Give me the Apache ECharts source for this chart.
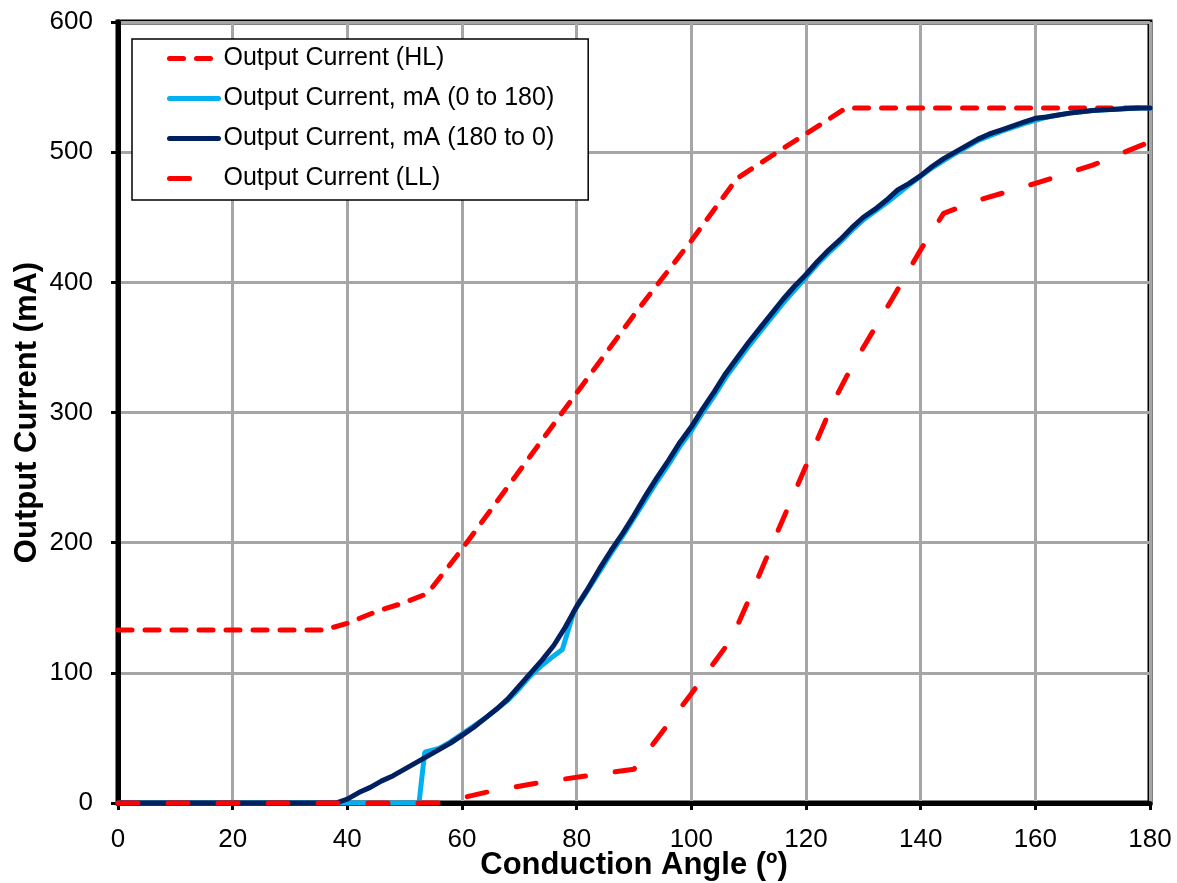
<!DOCTYPE html>
<html>
<head>
<meta charset="utf-8">
<script src="https://cdn.jsdelivr.net/npm/echarts@6/dist/echarts.min.js"></script>
<style>
    html, body {
        margin: 0;
        padding: 0;
        background: #ffffff;
    }
    #chart {
        width: 1177px;
        height: 883px;
    }
</style>
</head>
<body>
<div id="chart"></div>
<script>
// 数据
const xTicks = [0, 20, 40, 60, 80, 100, 120, 140, 160, 180];
const yTicks = [0, 100, 200, 300, 400, 500, 600];

// Output Current (HL)
const hlAngle = [0, 36, 40, 45, 50, 54, 60, 70, 80, 90, 100, 108, 115, 120, 127, 140, 160, 180];
const hlCurrent = [133, 133, 138, 147, 154, 161, 195, 255, 315, 375, 432, 480, 500, 514, 534, 534, 534, 534];

// Output Current, mA (180 to 0)
const downAngle = [0, 38, 40, 42, 44, 46, 48, 50, 52, 54, 56, 58, 60, 62, 64, 66, 68, 70, 72, 74, 76, 78, 80,
    82, 84, 86, 88, 90, 92, 94, 96, 98, 100, 102, 104, 106, 108, 110, 112, 114, 116, 118, 120, 122, 124, 126,
    128, 130, 132, 134, 136, 138, 140, 142, 144, 146, 148, 150, 152, 154, 156, 158, 160, 162, 164, 166, 168,
    170, 172, 174, 176, 178, 180];
const downCurrent = [0, 0, 3, 8, 12, 17, 21, 26, 31, 36, 41, 46, 52, 58, 65, 72, 80, 90, 100, 110, 121, 135, 151,
    165, 180, 194, 207, 221, 236, 250, 263, 277, 289, 303, 316, 330, 342, 354, 365, 376, 387, 397, 406, 416, 425, 433,
    442, 450, 456, 463, 471, 476, 482, 489, 495, 500, 505, 510, 514, 517, 520, 523, 526, 527, 528.5, 530, 531,
    532, 532.5, 533, 533.5, 534, 534];

// Output Current, mA (0 to 180)
const upAngle = [0, 52.5, 53.5, 56, 58, 60, 62, 64, 66, 68, 70, 72, 74, 76, 77.5, 79.5, 82, 84, 86, 88, 90, 92,
    94, 96, 98, 100, 102, 104, 106, 108, 110, 112, 114, 116, 118, 120, 122, 124, 126, 128, 130, 134, 138, 142,
    146, 150, 154, 158, 162, 166, 170, 174, 178, 180];
const upCurrent = [0, 0, 39, 42, 47, 53, 59, 65, 72, 79, 88, 98, 106, 113, 118, 147, 164, 178, 192, 205, 219, 233,
    247, 260, 274, 286, 300, 313, 327, 339, 351, 362, 373, 384, 394, 404, 414, 423, 431, 440, 448, 461, 475, 488,
    499, 509, 516, 522, 527, 530, 532, 533, 534, 534];

// Output Current (LL)
const llAngle = [0, 56, 60, 65, 74, 82, 90, 100, 107, 110, 115, 120, 125, 127, 130, 135, 140, 144, 150, 160, 170, 180];
const llCurrent = [0, 0, 4, 9, 16, 21, 26, 84, 126, 156, 208, 259, 310, 327, 350, 387, 425, 453, 463, 476, 490, 508];

function pairs(xs, ys) {
    return xs.map(function (x, i) {
        return [x, ys[i]];
    });
}

const FONT = "'Liberation Sans', Arial, sans-serif";

let myChart = echarts.init(document.getElementById("chart"));

let option = {
    backgroundColor: "#ffffff",
    animation: false,
    grid: {
        left: 118,
        right: 27,
        top: 22,
        bottom: 80,
        outerBoundsMode: "none",
        show: true,
        borderColor: "#000000",
        borderWidth: 5,
        backgroundColor: "transparent",
    },
    legend: {
        orient: "vertical",
        left: 132,
        top: 39,
        padding: [7, 34, 9, 35],
        itemWidth: 49,
        itemHeight: 14,
        itemGap: 15,
        backgroundColor: "#ffffff",
        borderColor: "#000000",
        borderWidth: 1.5,
        itemStyle: { opacity: 0 },
        lineStyle: { width: 5, cap: "round" },
        textStyle: {
            fontFamily: FONT,
            fontSize: 25,
            color: "#000000",
        },
        data: [
            "Output Current (HL)",
            "Output Current, mA (0 to 180)",
            "Output Current, mA (180 to 0)",
            "Output Current (LL)",
        ],
    },
    xAxis: {
        type: "value",
        min: xTicks[0],
        max: xTicks[xTicks.length - 1],
        interval: 20,
        name: "Conduction Angle (º)",
        nameLocation: "middle",
        nameGap: 47,
        nameMoveOverlap: false,
        nameTextStyle: {
            fontFamily: FONT,
            fontSize: 31,
            fontWeight: "bold",
            color: "#000000",
        },
        axisLine: {
            show: true,
            onZero: false,
            lineStyle: { color: "#000000", width: 5 },
        },
        axisTick: {
            show: true,
            inside: false,
            length: 7,
            lineStyle: { color: "#000000", width: 3 },
        },
        axisLabel: {
            margin: 24,
            fontFamily: FONT,
            fontSize: 26,
            color: "#000000",
        },
        splitLine: {
            show: true,
            lineStyle: { color: "#A6A6A6", width: 3 },
        },
    },
    yAxis: {
        type: "value",
        min: yTicks[0],
        max: yTicks[yTicks.length - 1],
        interval: 100,
        name: "Output Current (mA)",
        nameLocation: "middle",
        nameGap: 75,
        nameMoveOverlap: false,
        nameTextStyle: {
            fontFamily: FONT,
            fontSize: 31,
            fontWeight: "bold",
            color: "#000000",
        },
        axisLine: {
            show: true,
            lineStyle: { color: "#000000", width: 5 },
        },
        axisTick: {
            show: true,
            inside: false,
            length: 7,
            lineStyle: { color: "#000000", width: 3 },
        },
        axisLabel: {
            margin: 25,
            fontFamily: FONT,
            fontSize: 26,
            color: "#000000",
        },
        splitLine: {
            show: true,
            lineStyle: { color: "#A6A6A6", width: 3 },
        },
    },
    series: [
        {
            name: "Output Current (HL)",
            type: "line",
            symbol: "none",
            clip: false,
            data: pairs(hlAngle, hlCurrent),
            itemStyle: { color: "#FF0000" },
            lineStyle: { color: "#FF0000", width: 5, type: [14, 13], cap: "round" },
            z: 3,
        },
        {
            name: "Output Current, mA (0 to 180)",
            type: "line",
            symbol: "none",
            clip: false,
            data: pairs(upAngle, upCurrent),
            itemStyle: { color: "#00B0F0" },
            lineStyle: { color: "#00B0F0", width: 5, cap: "round" },
            z: 4,
        },
        {
            name: "Output Current, mA (180 to 0)",
            type: "line",
            symbol: "none",
            clip: false,
            data: pairs(downAngle, downCurrent),
            itemStyle: { color: "#002060" },
            lineStyle: { color: "#002060", width: 5, cap: "round" },
            z: 5,
        },
        {
            name: "Output Current (LL)",
            type: "line",
            symbol: "none",
            clip: false,
            data: pairs(llAngle, llCurrent),
            itemStyle: { color: "#FF0000" },
            lineStyle: { color: "#FF0000", width: 5, type: [20, 30], cap: "round" },
            z: 6,
        },
    ],
};

myChart.setOption(option);
</script>
</body>
</html>
